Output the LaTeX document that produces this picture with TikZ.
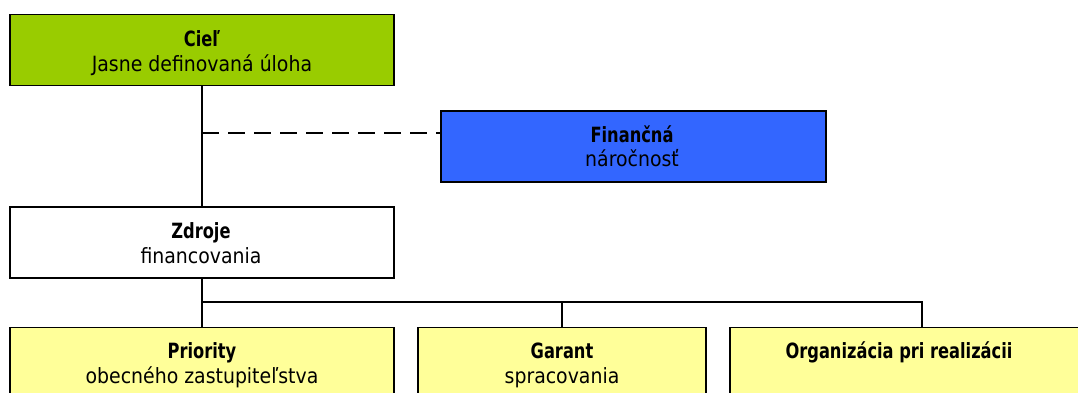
\documentclass[tikz,border=0pt]{standalone}
\usepackage{fontspec}
\setmainfont{DejaVu Sans Condensed}[BoldFeatures={FakeStretch=0.86}]
\definecolor{cgreen}{HTML}{99CC00}
\definecolor{cblue}{HTML}{3366FF}
\definecolor{cyellow}{HTML}{FFFF99}
\begin{document}
\begin{tikzpicture}[x=1pt,y=-1pt,
  box/.style={draw=black, line width=1.6pt, rectangle, minimum height=71pt, inner sep=0pt},
  conn/.style={line width=1.3pt, draw=black},
  ttl/.style={anchor=base, inner sep=0pt, font=\fontsize{21}{25}\selectfont\bfseries},
  sub/.style={anchor=base, inner sep=0pt, font=\fontsize{21}{25}\selectfont}]
\useasboundingbox (0,0) rectangle (1078,392);
\clip (0,0) rectangle (1078,392);
% boxes
\node (ciel) [box, fill=cgreen, minimum width=384pt] at (202,50) {};
\node (fin) [box, fill=cblue, minimum width=385pt] at (633.5,146.5) {};
\node (zdr) [box, fill=white, minimum width=384pt] at (202,242.5) {};
\node (pri) [box, fill=cyellow, minimum width=384pt] at (202,363) {};
\node (gar) [box, fill=cyellow, minimum width=288pt] at (562,363) {};
\node (org) [box, fill=cyellow, minimum width=384pt] at (922,363) {};
% texts
\node (cielt) [ttl] at (202,46) {Cieľ};
\node (ciels) [sub] at (202,71) {Jasne definovaná úloha};
\node (fint) [ttl] at (632,142) {Finančná};
\node (fins) [sub] at (632,166) {náročnosť};
\node (zdrt) [ttl] at (201,238) {Zdroje};
\node (zdrs) [sub] at (201,263) {financovania};
\node (prit) [ttl] at (202,358) {Priority};
\node (pris) [sub] at (202,383) {obecného zastupiteľstva};
\node (gart) [ttl] at (562,358) {Garant};
\node (gars) [sub] at (562,383) {spracovania};
\node (orgt) [ttl] at (899,358) {Organizácia pri realizácii};
% connectors
\coordinate (dsh) at (202,133);
\coordinate (bar) at (202,302);
\draw[conn] (ciel.south) -- (zdr.north);
\draw[conn, dash pattern=on 17pt off 9pt] (dsh) -- (dsh -| fin.west);
\draw[conn] (zdr.south) -- (pri.north);
\draw[conn] (bar) -| (gar.north);
\draw[conn] (bar) -| (org.north);
\end{tikzpicture}
\end{document}
